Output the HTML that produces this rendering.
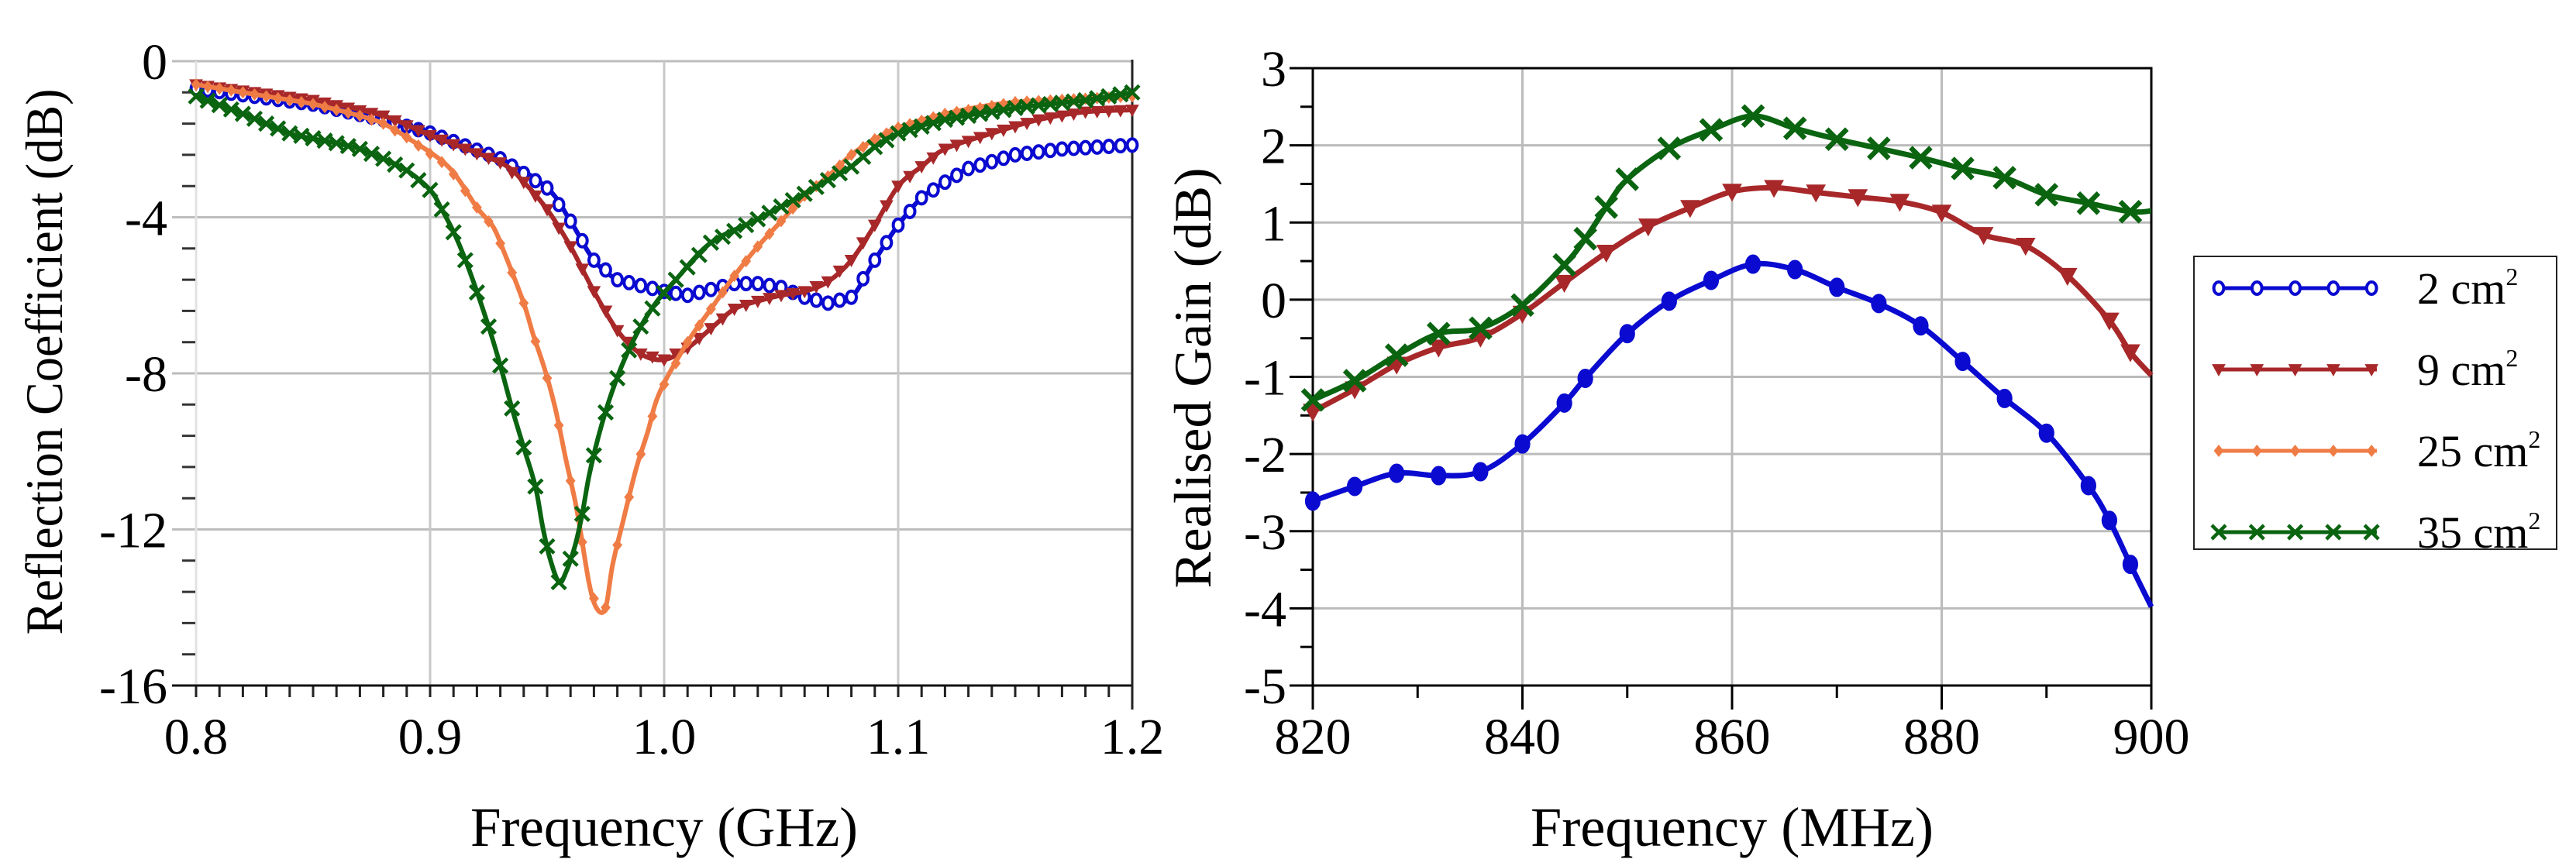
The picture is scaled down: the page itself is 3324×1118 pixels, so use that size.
<!DOCTYPE html>
<html><head><meta charset="utf-8"><style>
html,body{margin:0;padding:0;background:#fff;}
svg{display:block;font-family:"Liberation Serif",serif;}
</style></head><body>
<svg id="fig" width="3324" height="1118" viewBox="0 0 3324 1118" xmlns="http://www.w3.org/2000/svg">
<g id="left"></g>
<g id="right"></g>
<g id="legend"></g>
</svg>
<script>
// ---------- Left chart data (frequency GHz, dB) ----------
const s11F_2 = [0.8,0.85,0.88,0.9,0.93,0.95,0.96,0.97,0.98,0.99,1.0,1.01,1.03,1.04,1.05,1.06,1.07,1.08,1.09,1.1,1.11,1.12,1.13,1.15,1.17,1.2];
const s11V_2 = [-0.7,-1.1,-1.5,-1.84,-2.5,-3.25,-4.1,-5.1,-5.6,-5.75,-5.9,-6.0,-5.7,-5.7,-5.8,-6.05,-6.2,-6.05,-5.1,-4.2,-3.5,-3.1,-2.75,-2.4,-2.25,-2.15];
const s11F_9 = [0.8,0.85,0.88,0.9,0.93,0.94,0.95,0.96,0.97,0.98,0.99,1.0,1.01,1.02,1.03,1.04,1.05,1.06,1.07,1.08,1.09,1.1,1.11,1.12,1.14,1.16,1.18,1.2];
const s11V_9 = [-0.6,-1.0,-1.4,-1.9,-2.6,-3.1,-3.8,-4.75,-5.9,-6.9,-7.5,-7.65,-7.35,-6.85,-6.35,-6.15,-6.0,-5.9,-5.65,-5.1,-4.2,-3.2,-2.7,-2.25,-1.85,-1.5,-1.3,-1.25];
const s11F_25 = [0.8,0.83,0.85,0.87,0.88,0.89,0.9077,0.92,0.927,0.932,0.94,0.944,0.949,0.9535,0.958,0.9627,0.968,0.9715,0.975,0.978,0.9826,0.988,0.993,0.998,1.01,1.02,1.03,1.04,1.05,1.06,1.07,1.08,1.09,1.1,1.12,1.15,1.2];
const s11V_25 = [-0.6,-0.9,-1.1,-1.4,-1.6,-1.95,-2.7,-3.75,-4.25,-4.95,-6.2,-7.0,-7.9,-8.9,-10.2,-11.5,-13.4,-14.05,-14.0,-12.9,-11.75,-10.45,-9.5,-8.5,-7.2,-6.35,-5.5,-4.75,-4.1,-3.45,-2.95,-2.4,-2.0,-1.7,-1.35,-1.05,-0.9];
const s11F_35 = [0.8,0.82,0.84,0.86,0.87,0.88,0.89,0.9,0.905,0.911,0.917,0.925,0.93,0.935,0.94,0.945,0.948,0.951,0.955,0.958,0.962,0.965,0.968,0.972,0.977,0.983,0.99,0.997,1.005,1.02,1.04,1.06,1.07,1.08,1.09,1.1,1.12,1.15,1.18,1.2];
const s11V_35 = [-0.9,-1.35,-1.85,-2.1,-2.25,-2.5,-2.8,-3.3,-3.8,-4.5,-5.4,-6.8,-7.8,-8.9,-9.9,-10.9,-11.9,-12.7,-13.35,-13.1,-12.4,-11.6,-10.6,-9.6,-8.6,-7.65,-6.8,-6.15,-5.6,-4.65,-4.05,-3.4,-3.05,-2.7,-2.2,-1.85,-1.5,-1.2,-1.0,-0.8];
const leftXTicks = ["0.8","0.9","1.0","1.1","1.2"];
const leftYTicks = ["0","-4","-8","-12","-16"];

// ---------- Right chart data (frequency MHz, dB) ----------
const gF_2 = [820,824,828,832,836,840,844,846,850,854,858,862,866,870,874,878,882,886,890,894,896,898,900];
const gV_2 = [-2.61,-2.42,-2.25,-2.28,-2.23,-1.87,-1.34,-1.02,-0.44,-0.02,0.25,0.46,0.39,0.16,-0.05,-0.34,-0.80,-1.28,-1.73,-2.41,-2.86,-3.43,-3.98];
const gF_9 = [820,824,828,832,836,840,844,848,852,856,860,864,868,872,876,880,884,888,892,896,898,900];
const gV_9 = [-1.45,-1.16,-0.84,-0.62,-0.49,-0.18,0.22,0.61,0.95,1.19,1.40,1.45,1.39,1.33,1.27,1.13,0.84,0.70,0.31,-0.27,-0.68,-0.98];
const gF_35 = [820,824,828,832,836,840,844,846,848,850,854,858,862,866,870,874,878,882,886,890,894,898,900];
const gV_35 = [-1.30,-1.05,-0.72,-0.44,-0.37,-0.07,0.45,0.79,1.20,1.56,1.96,2.20,2.38,2.22,2.08,1.96,1.84,1.70,1.58,1.36,1.25,1.14,1.15];
const rightXTicks = ["820","840","860","880","900"];
const rightYTicks = ["3","2","1","0","-1","-2","-3","-4","-5"];
const legendLabels = ["2","9","25","35"];

const NS="http://www.w3.org/2000/svg";
const C={blue:"#0a0ad0",red:"#a8282a",orange:"#f07c45",green:"#0a6410"};
function mk(tag,attrs,parent){const e=document.createElementNS(NS,tag);for(const k in attrs)e.setAttribute(k,attrs[k]);parent.appendChild(e);return e;}

const L={x0:253,x1:1461,y0:79,y1:885};
const lx=f=>L.x0+(f-0.8)/0.4*(L.x1-L.x0);
const ly=v=>L.y0+(-v)/16*(L.y1-L.y0);
const R={x0:1694,x1:2776,y0:88,y1:885};
const rx=f=>R.x0+(f-820)/80*(R.x1-R.x0);
const ry=v=>R.y0+(3-v)/8*(R.y1-R.y0);

function marker(type,x,y,s,color,parent,hollow){
  let e;
  if(type==="circle"){e=mk("ellipse",{cx:x,cy:y,rx:s*0.8,ry:s,fill:hollow?"#fff":color,stroke:color,"stroke-width":hollow?4:1},parent);}
  else if(type==="tri"){e=mk("path",{d:`M${x-s},${y-s*0.8}L${x+s},${y-s*0.8}L${x},${y+s}Z`,fill:color,stroke:color,"stroke-width":1},parent);}
  else if(type==="diamond"){e=mk("path",{d:`M${x},${y-s}L${x+s*0.8},${y}L${x},${y+s}L${x-s*0.8},${y}Z`,fill:color},parent);}
  else {e=mk("path",{d:`M${x-s},${y-s}L${x+s},${y+s}M${x-s},${y+s}L${x+s},${y-s}`,stroke:color,"stroke-width":s*0.5,fill:"none"},parent);}
  
  
  return e;
}
function smoothPath(pts){
  let d=`M${pts[0][0]},${pts[0][1]}`;
  for(let i=0;i<pts.length-1;i++){
    const p0=pts[Math.max(0,i-1)],p1=pts[i],p2=pts[i+1],p3=pts[Math.min(pts.length-1,i+2)];
    const c1=[p1[0]+(p2[0]-p0[0])/6,p1[1]+(p2[1]-p0[1])/6];
    const c2=[p2[0]-(p3[0]-p1[0])/6,p2[1]-(p3[1]-p1[1])/6];
    d+=`C${c1[0]},${c1[1]} ${c2[0]},${c2[1]} ${p2[0]},${p2[1]}`;
  }
  return d;
}
function interp(F,V,f){for(let i=0;i<F.length-1;i++){if(f>=F[i]&&f<=F[i+1]){const t=(f-F[i])/(F[i+1]-F[i]);return V[i]+t*(V[i+1]-V[i]);}}return V[V.length-1];}

// ================= LEFT CHART =================
const gl=document.getElementById('left');
leftYTicks.forEach(t=>{const v=parseFloat(t);if(v===-16)return;
  const g=mk("line",{x1:222,x2:L.x1,y1:ly(v),y2:ly(v),stroke:"#bdbdbd","stroke-width":3},gl);
  
  });
leftXTicks.forEach(t=>{const f=parseFloat(t);if(f===1.2)return;
  const g=mk("line",{x1:lx(f),x2:lx(f),y1:L.y0,y2:L.y1,stroke:f===0.8?"#e2e2e2":"#c8c8c8","stroke-width":3},gl);
  
  });
for(let v=0;v>=-16;v-=0.8){if(Math.abs(v%4)<0.01||Math.abs(Math.abs(v%4)-4)<0.01)continue;
  const t=mk("line",{x1:235,x2:252,y1:ly(v),y2:ly(v),stroke:"#333","stroke-width":3},gl);
  
  }
for(let i=0;i<=40;i++){const f=0.8+i*0.01;
  const t=mk("line",{x1:lx(f),x2:lx(f),y1:L.y1,y2:L.y1+(i===40?31:15),stroke:"#222","stroke-width":3},gl);
  
  }
const lax=mk("line",{x1:222,x2:L.x1,y1:L.y1,y2:L.y1,stroke:"#111","stroke-width":3},gl);


const lre=mk("line",{x1:L.x1,x2:L.x1,y1:L.y0-2,y2:L.y1+31,stroke:"#222","stroke-width":3},gl);


leftXTicks.forEach(t=>{const e=mk("text",{x:lx(parseFloat(t)),y:973,"font-size":66,"text-anchor":"middle"},gl);e.textContent=t;
  
  });
leftYTicks.forEach(t=>{const e=mk("text",{x:216,y:ly(parseFloat(t))+23,"font-size":66,"text-anchor":"end"},gl);e.textContent=t;
  
  });
let tt=mk("text",{x:857,y:1092,"font-size":72,"text-anchor":"middle",textLength:500,lengthAdjust:"spacingAndGlyphs"},gl);tt.textContent="Frequency (GHz)";


tt=mk("text",{x:0,y:0,"font-size":68,"text-anchor":"middle",textLength:705,lengthAdjust:"spacingAndGlyphs",transform:"translate(80,467) rotate(-90)"},gl);tt.textContent="Reflection Coefficient (dB)";


const leftSeries=[[s11F_2,s11V_2,C.blue,"circle",true,"series-2cm2"],[s11F_9,s11V_9,C.red,"tri",false,"series-9cm2"],[s11F_25,s11V_25,C.orange,"diamond",false,"series-25cm2"],[s11F_35,s11V_35,C.green,"x",false,"series-35cm2"]];
leftSeries.forEach(([F,V,col,m,h,name])=>{
  const g=mk("g",{},gl);
  
  
  const pts=F.map((f,i)=>[lx(f),ly(V[i])]);
  const p=mk("path",{d:smoothPath(pts),fill:"none",stroke:col,"stroke-width":6,"stroke-linejoin":"round"},g);
  
  
  for(let f=0.8;f<=1.2001;f+=0.005){marker(m,lx(f),ly(interp(F,V,f)),m==="x"?9:8,col,g,h);}
});

// ================= RIGHT CHART =================
const gr=document.getElementById('right');
rightYTicks.forEach(t=>{const v=parseFloat(t);
  const g=mk("line",{x1:R.x0,x2:R.x1,y1:ry(v),y2:ry(v),stroke:"#bbbbbb","stroke-width":3},gr);
  
  
  const t2=mk("line",{x1:1664,x2:R.x0,y1:ry(v),y2:ry(v),stroke:"#000","stroke-width":3},gr);
  
  
  const e=mk("text",{x:1660,y:ry(v)+23,"font-size":66,"text-anchor":"end"},gr);e.textContent=t;
  
  
  if(v>-5){const m=mk("line",{x1:1678,x2:R.x0,y1:ry(v-0.5),y2:ry(v-0.5),stroke:"#000","stroke-width":3},gr);
    
    }
});
rightXTicks.forEach(t=>{const f=parseFloat(t);
  const g=mk("line",{x1:rx(f),x2:rx(f),y1:R.y0,y2:R.y1,stroke:"#bbbbbb","stroke-width":3},gr);
  
  
  const t2=mk("line",{x1:rx(f),x2:rx(f),y1:R.y1,y2:R.y1+31,stroke:"#000","stroke-width":3},gr);
  
  
  const e=mk("text",{x:rx(f),y:973,"font-size":66,"text-anchor":"middle"},gr);e.textContent=t;
  
  
  if(f<900){const m=mk("line",{x1:rx(f+10),x2:rx(f+10),y1:R.y1,y2:R.y1+16,stroke:"#000","stroke-width":3},gr);
    
    }
});
const box=mk("rect",{x:R.x0,y:R.y0,width:R.x1-R.x0,height:R.y1-R.y0,fill:"none",stroke:"#000","stroke-width":3},gr);


tt=mk("text",{x:2235,y:1092,"font-size":72,"text-anchor":"middle",textLength:520,lengthAdjust:"spacingAndGlyphs"},gr);tt.textContent="Frequency (MHz)";


tt=mk("text",{x:0,y:0,"font-size":68,"text-anchor":"middle",textLength:543,lengthAdjust:"spacingAndGlyphs",transform:"translate(1562,488) rotate(-90)"},gr);tt.textContent="Realised Gain (dB)";


const rightSeries=[[gF_9,gV_9,C.red,"tri","series-9cm2"],[gF_35,gV_35,C.green,"x","series-35cm2"],[gF_2,gV_2,C.blue,"circle","series-2cm2"]];
rightSeries.forEach(([F,V,col,m,name])=>{
  const g=mk("g",{},gr);
  
  
  const pts=F.map((f,i)=>[rx(f),ry(V[i])]);
  const p=mk("path",{d:smoothPath(pts),fill:"none",stroke:col,"stroke-width":7,"stroke-linejoin":"round"},g);
  
  
  for(let i=0;i<F.length-1;i++){marker(m,pts[i][0],pts[i][1],m==="x"?13:12,col,g,false);}
});

// ================= LEGEND =================
const lg=document.getElementById('legend');
const lb=mk("rect",{x:2831,y:331,width:468,height:378,fill:"#fff",stroke:"#222","stroke-width":2},lg);


const legCols=[C.blue,C.red,C.orange,C.green],legM=["circle","tri","diamond","x"];
legendLabels.forEach((lab,i)=>{
  const y=372+i*105;
  const g=mk("g",{},lg);
  
  
  const l=mk("line",{x1:2860,x2:3067,y1:y,y2:y,stroke:legCols[i],"stroke-width":5},g);
  
  
  for(let k=0;k<5;k++)marker(legM[i],2863+k*49.3,y,legM[i]==="x"?9:8,legCols[i],g,i===0);
  const t=mk("text",{x:3119,y:y+20,"font-size":58},g);
  
  
  t.textContent=lab+" cm";
  const s=mk("tspan",{"font-size":32,dy:-24},t);s.textContent="2";
});
</script>
</body></html>
